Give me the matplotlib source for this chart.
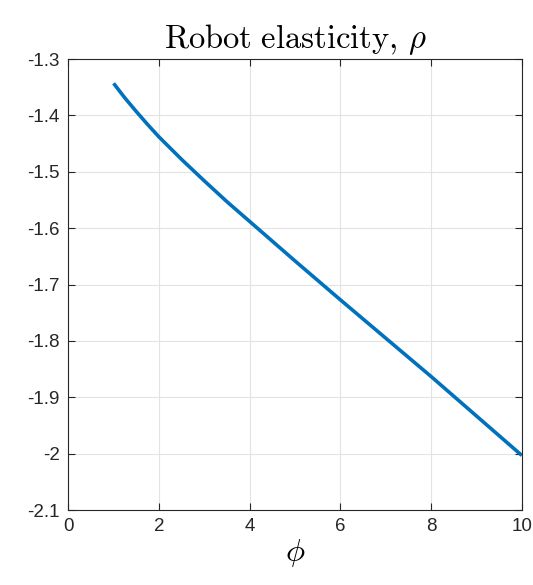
import matplotlib
matplotlib.use("Agg")
import matplotlib.pyplot as plt

phi = [1.0, 1.25, 1.5, 1.75, 2.0, 2.5, 3.0, 3.5, 4.0, 5.0, 6.0, 7.0, 8.0, 9.0, 10.0]
rho = [-1.343, -1.369, -1.393, -1.416, -1.438, -1.478, -1.516, -1.553, -1.588, -1.658,
       -1.727, -1.795, -1.863, -1.933, -2.003]

xticks = [0, 2, 4, 6, 8, 10]
yticks = [-1.3, -1.4, -1.5, -1.6, -1.7, -1.8, -1.9, -2.0, -2.1]
ytick_labels = ["-1.3", "-1.4", "-1.5", "-1.6", "-1.7", "-1.8", "-1.9", "-2", "-2.1"]

plt.rcParams['font.family'] = ['Liberation Sans', 'DejaVu Sans']
plt.rcParams['mathtext.fontset'] = 'cm'

fig = plt.figure(figsize=(5.33, 5.85), dpi=100)
ax = fig.add_axes([0.128, 0.128, 0.851, 0.771])

ax.plot(phi, rho, color='#0072BD', linewidth=2.6, solid_capstyle='butt')

ax.set_xlim(0, 10)
ax.set_ylim(-2.1, -1.3)
ax.set_xticks(xticks)
ax.set_xticklabels([str(t) for t in xticks])
ax.set_yticks(yticks)
ax.set_yticklabels(ytick_labels)

ax.grid(True, color='#e3e3e3', linewidth=0.8)
ax.set_axisbelow(True)

for s in ax.spines.values():
    s.set_color('#262626')
    s.set_linewidth(0.8)

ax.tick_params(direction='in', length=5, width=0.8, colors='#262626',
               labelsize=13.5, top=True, right=True, pad=6)
for lab in ax.get_xticklabels() + ax.get_yticklabels():
    lab.set_color('#262626')

ax.set_title(r'$\mathrm{Robot\ elasticity,}\,\rho$', fontsize=23.5, pad=8, color='black')
ax.set_xlabel(r'$\phi$', fontsize=23, labelpad=1)

fig.savefig('out.png', dpi=100)
